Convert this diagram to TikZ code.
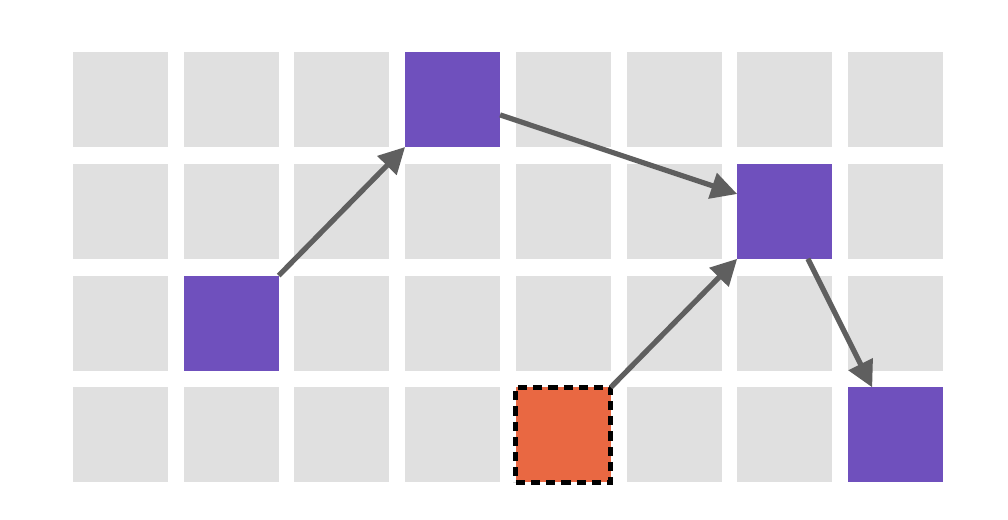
\documentclass[tikz,border=0pt]{standalone}
\usetikzlibrary{arrows.meta}
\definecolor{cellgray}{HTML}{E0E0E0}
\definecolor{cellpurple}{HTML}{6F50BD}
\definecolor{cellorange}{HTML}{E96842}
\definecolor{arrowgray}{HTML}{5F5F5F}
\begin{document}
\begin{tikzpicture}[x=0.5pt,y=-0.5pt,
  cell/.style={rectangle,minimum size=47.5pt,inner sep=0pt,outer sep=0pt,fill=cellgray},
  pcell/.style={cell,fill=cellpurple},
  ocell/.style={cell,fill=cellorange,draw=black,line width=2.6pt,dash pattern=on 4.6pt off 3pt},
  link/.style={draw=arrowgray,line width=2.6pt,-{Triangle[length=13pt,width=13pt]}}]
\useasboundingbox (0,0) rectangle (1008,520);
\foreach \i in {0,...,7}{
  \foreach \j in {0,...,3}{
    \node[cell] (c\i\j) at ({120.5+110.7*\i},{99.5+111.8*\j}) {};
  }
}
\node[pcell] (p12) at (c12) {};
\node[pcell] (p30) at (c30) {};
\node[pcell] (p61) at (c61) {};
\node[pcell] (p73) at (c73) {};
\node[ocell] (o43) at (c43) {};
\draw[link] (p12.north east) -- (p30.south west);
\draw[link] (p30.-18) -- (p61.160);
\draw[link] (o43.north east) -- (p61.south west);
\draw[link] (p61.-64) -- (p73.116);
\end{tikzpicture}
\end{document}
